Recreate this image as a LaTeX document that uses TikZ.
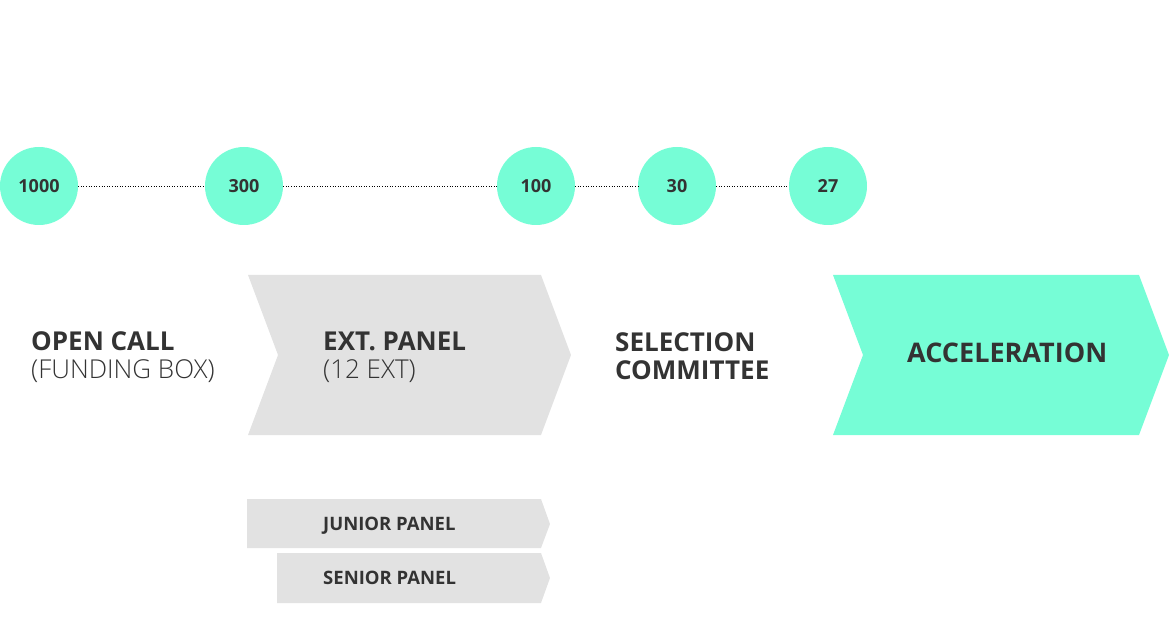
\documentclass[tikz,border=0pt]{standalone}
\usepackage{fontspec}
\setmainfont{Open Sans}
\newfontfamily\lightfont{Open Sans Light}
\definecolor{mint}{HTML}{76FDD6}
\definecolor{panelgrey}{HTML}{E2E2E2}
\definecolor{ink}{HTML}{333333}
\begin{document}
\begin{tikzpicture}[x=1pt,y=-1pt,
  countnode/.style={circle,fill=mint,minimum size=78pt,inner sep=0pt,text=ink,font=\fontsize{18}{18}\selectfont\bfseries},
  dotline/.style={black,line width=0.6pt,dotted},
  bigtext/.style={anchor=base west,inner sep=0pt,text=ink,align=left,font=\fontsize{26}{27.5}\selectfont\bfseries},
  smalltext/.style={anchor=base west,inner sep=0pt,text=ink,font=\fontsize{18.5}{18.5}\selectfont\bfseries}]
\useasboundingbox (0,0) rectangle (1170,644);
% circles
\node[countnode] (c1) at (39,186) {1000};
\node[countnode] (c2) at (244,186) {300};
\node[countnode] (c3) at (536,186) {100};
\node[countnode] (c4) at (677,186) {30};
\node[countnode] (c5) at (828,186) {27};
\draw[dotline] (c1) -- (c2);
\draw[dotline] (c2) -- (c3);
\draw[dotline] (c3) -- (c4);
\draw[dotline] (c4) -- (c5);
% chevrons
\fill[panelgrey] (248,275) -- (541,275) -- (571,355) -- (541,435) -- (248,435) -- (278,355) -- cycle;
\fill[mint] (833,275) -- (1139,275) -- (1169,355) -- (1139,435) -- (833,435) -- (863,355) -- cycle;
\fill[panelgrey] (247,499) -- (541,499) -- (550,524) -- (541,548) -- (247,548) -- cycle;
\fill[panelgrey] (277,553) -- (541,553) -- (550,578) -- (541,603) -- (277,603) -- cycle;
% texts
\node[bigtext] (open) at (31,378) {OPEN CALL\\{\lightfont\mdseries (FUNDING BOX)}};
\node[bigtext] (ext) at (323,378) {EXT. PANEL\\{\lightfont\mdseries (12 EXT)}};
\node[bigtext] (sel) at (615,379) {SELECTION\\COMMITTEE};
\node[bigtext,font=\fontsize{27}{27}\selectfont\bfseries] (acc) at (907,362) {ACCELERATION};
\node[smalltext] (jun) at (323,530) {JUNIOR PANEL};
\node[smalltext] (sen) at (323,584) {SENIOR PANEL};
\end{tikzpicture}
\end{document}
